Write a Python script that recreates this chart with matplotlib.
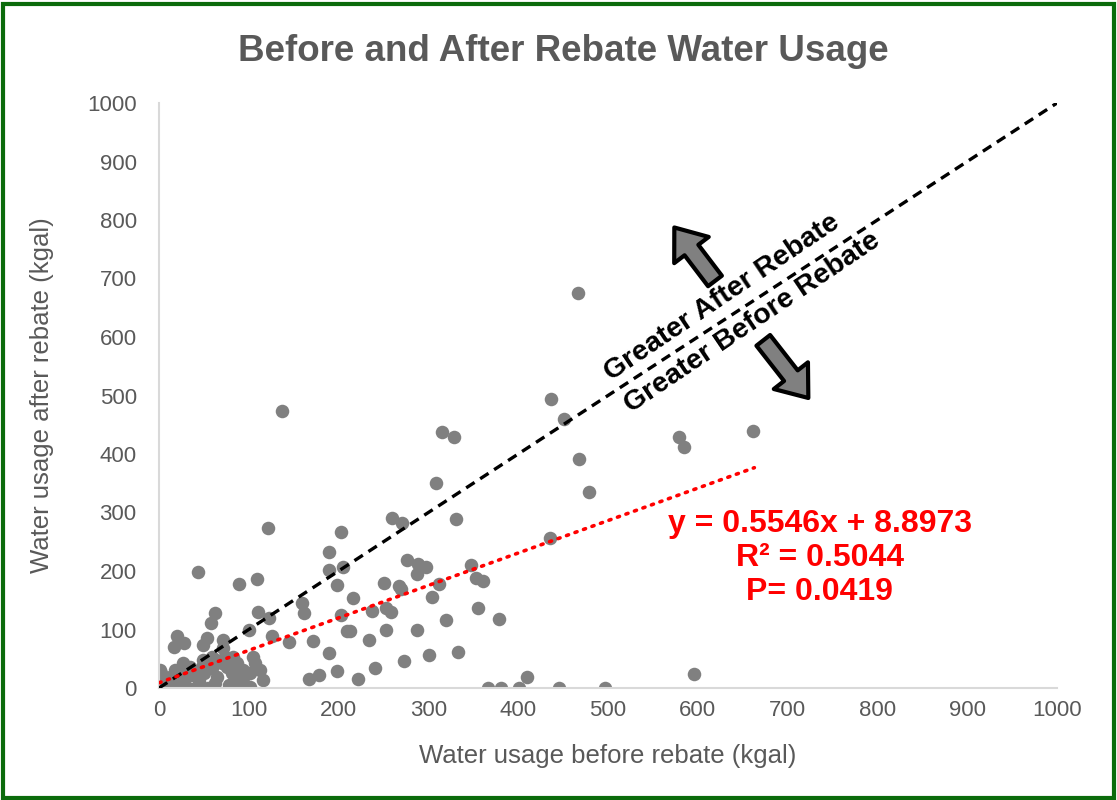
import matplotlib.pyplot as plt
from matplotlib.patches import FancyArrowPatch, Rectangle

# water usage before / after rebate (kgal)
before = [137, 467, 437, 451, 661, 579, 585, 315, 328, 468, 479, 309, 260, 271, 331,
          435, 276, 288, 297, 287, 348, 353, 361, 251, 267, 269, 312, 304, 216, 237,
          253, 258, 355, 379, 320, 213, 253, 287, 234, 301, 333, 273, 241, 222, 410,
          596, 366, 381, 401, 445, 497, 121,
          203, 189, 189, 205, 198, 159, 161, 145, 171, 203, 209, 189, 198, 178, 167,
          43, 89, 109, 62, 58, 110, 122, 100, 20, 17, 28, 53, 49, 71, 71, 126,
          73, 82, 105, 49, 48, 59, 27, 35, 23, 1, 1, 0, 12, 12, 27, 38, 42, 55,
          65, 76, 81, 87, 94, 101, 107, 90, 101, 112, 116, 32, 23, 4, 70, 64, 59,
          2, 5, 8, 15, 18, 30, 45, 50, 62, 78, 85, 95]
after = [473, 675, 494, 459, 439, 429, 412, 437, 429, 391, 335, 351, 290, 282, 289,
         257, 219, 212, 207, 195, 210, 188, 183, 180, 175, 169, 178, 156, 154, 132,
         137, 130, 137, 118, 116, 97, 99, 99, 82, 56, 62, 46, 34, 15, 19,
         24, 0, 0, 0, 0, 0, 274,
         266, 233, 201, 207, 176, 146, 129, 79, 80, 125, 97, 60, 29, 22, 15,
         199, 177, 187, 128, 111, 130, 119, 99, 89, 70, 77, 85, 73, 82, 68, 89,
         53, 53, 53, 48, 36, 34, 43, 36, 31, 31, 19, 9, 19, 5, 14, 22, 2, 0,
         19, 36, 26, 43, 31, 26, 43, 10, 2, 31, 14, 0, 0, 0, 43, 48, 53,
         25, 12, 3, 8, 30, 18, 12, 25, 8, 5, 15, 20]

slope = 0.5546
intercept = 8.8973
trend_x = [0, 663]
diag = [0, 1000]
ticks = list(range(0, 1001, 100))

gray_txt = '#595959'
plt.rcParams['font.family'] = ['Liberation Sans', 'DejaVu Sans']

fig = plt.figure(figsize=(11.17, 8), dpi=100)
ax = fig.add_axes([0.1423, 0.14, 0.804, 0.73125])

ax.scatter(before, after, s=95, color='#808080', zorder=2, linewidths=0)
ax.plot(diag, diag, color='black', lw=2.4, dashes=(3, 2), zorder=3)
ax.plot(trend_x, [slope * x + intercept for x in trend_x], color='red', lw=2.6,
        dashes=(0.6, 1.9), dash_capstyle='round', zorder=3)

ax.set_xlim(0, 1000)
ax.set_ylim(0, 1000)
ax.set_xticks(ticks)
ax.set_yticks(ticks)
ax.tick_params(length=0, labelsize=16, colors=gray_txt)
ax.tick_params(axis='y', pad=16)
ax.tick_params(axis='x', pad=9)
for side in ['top', 'right']:
    ax.spines[side].set_visible(False)
for side in ['left', 'bottom']:
    ax.spines[side].set_color('#d9d9d9')
    ax.spines[side].set_linewidth(1.5)

ax.set_xlabel('Water usage before rebate (kgal)', fontsize=18.5, color=gray_txt, labelpad=16)
ax.set_ylabel('Water usage after rebate (kgal)', fontsize=18.5, color=gray_txt, labelpad=24)

fig.text(0.504, 0.936, 'Before and After Rebate Water Usage', ha='center', va='center',
         fontsize=26.5, fontweight='bold', color=gray_txt)

ax.text(627, 668, 'Greater After Rebate', rotation=34, rotation_mode='anchor',
        ha='center', va='center', fontsize=20.5, fontweight='bold', zorder=4)
ax.text(661, 624, 'Greater Before Rebate', rotation=34, rotation_mode='anchor',
        ha='center', va='center', fontsize=20.5, fontweight='bold', zorder=4)

ax.text(736, 222, 'y = 0.5546x + 8.8973\nR² = 0.5044\nP= 0.0419', ha='center', va='center',
        fontsize=23, fontweight='bold', color='red', linespacing=1.16)

arrow_style = 'simple,head_length=0.85,head_width=1.3,tail_width=0.52'
for tail, tip in [((621, 692), (572, 791)), ((671, 598), (725, 492))]:
    ax.add_patch(FancyArrowPatch(tail, tip, arrowstyle=arrow_style, mutation_scale=24,
                                 fc='#808080', ec='black', lw=3, zorder=5))

# green frame round the whole chart
fig.patches.append(Rectangle((0.003, 0.003), 0.994, 0.992, transform=fig.transFigure,
                             fill=False, ec='#0b6b0b', lw=3))

fig.savefig('out.png', dpi=100)
